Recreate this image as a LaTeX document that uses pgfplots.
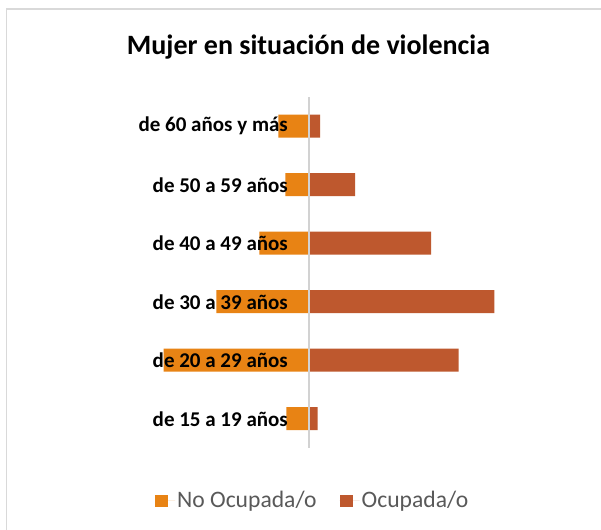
\documentclass[border=0pt]{standalone}
\usepackage{fontspec}
\setmainfont{Carlito}
\usepackage{pgfplots}
\pgfplotsset{compat=1.18}
\definecolor{cOrange}{RGB}{232,131,20}
\definecolor{cBrown}{RGB}{190,88,46}
\definecolor{cFrame}{RGB}{217,217,217}
\definecolor{cAxis}{RGB}{210,210,210}
\definecolor{cLegText}{RGB}{89,89,89}
\begin{document}
\begin{tikzpicture}[x=1pt,y=1pt]
\useasboundingbox (0,0) rectangle (601,529);
\fill[white] (0,0) rectangle (601,529);
\draw[cFrame, line width=1.2pt] (640,520) -- (6.5,520) -- (6.5,-20);
\node[font=\bfseries\fontsize{28}{34}\selectfont] at (308.5,482) {Mujer en situación de violencia};
\begin{axis}[
  at={(139pt,81pt)}, anchor=south west,
  scale only axis, width=370pt, height=351pt,
  xmin=-170, xmax=200, ymin=-0.5, ymax=5.5,
  axis x line=none,
  axis y line=center,
  y axis line style={draw=cAxis, line width=1.6pt, -},
  ytick={0,1,2,3,4,5},
  yticklabels={de 15 a 19 años, de 20 a 29 años, de 30 a 39 años, de 40 a 49 años, de 50 a 59 años, de 60 años y más},
  major tick length=0pt,
  yticklabel style={font=\bfseries\fontsize{21}{25}\selectfont, anchor=east, inner sep=0pt, xshift=-21pt, text=black},
  axis on top,
  xbar, bar width=23pt, bar shift=0pt,
  legend columns=2,
  legend style={at={(axis description cs:0.043,-0.1496)}, anchor=west, draw=none, fill=none,
    font=\fontsize{23.6}{28}\selectfont, text=cLegText, inner sep=0pt,
    /tikz/every even column/.append style={column sep=21pt}},
  legend image code/.code={\fill[#1] (0pt,-6pt) rectangle (13pt,6pt); \path (0pt,0pt) -- (20pt,0pt);},
]
\addplot[fill=cOrange, draw=none] coordinates {(-22.7,0) (-145.3,1) (-92.7,2) (-49.7,3) (-23.7,4) (-30.7,5)};
\addlegendentry{No Ocupada/o}
\addplot[fill=cBrown, draw=none] coordinates {(8.7,0) (149.7,1) (185.3,2) (122,3) (46,4) (11,5)};
\addlegendentry{Ocupada/o}
\end{axis}
\end{tikzpicture}
\end{document}
